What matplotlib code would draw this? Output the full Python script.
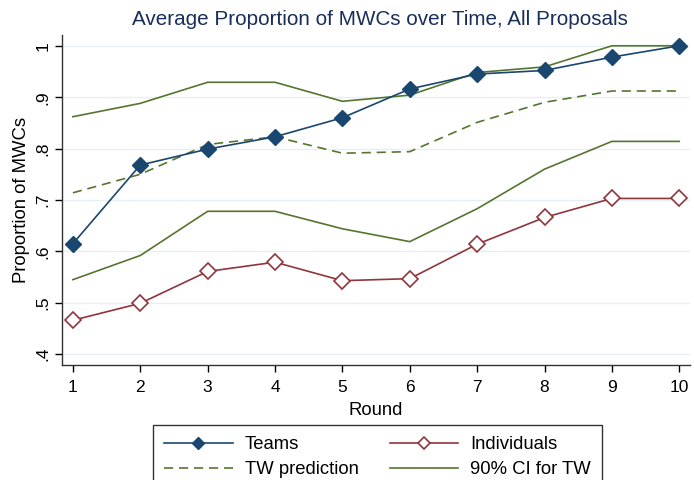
import matplotlib
matplotlib.use("Agg")
import matplotlib.pyplot as plt

plt.rcParams["font.family"] = ["Liberation Sans", "DejaVu Sans"]

rounds = [1, 2, 3, 4, 5, 6, 7, 8, 9, 10]
teams = [0.615, 0.768, 0.799, 0.823, 0.860, 0.916, 0.945, 0.952, 0.978, 1.0]
individuals = [0.466, 0.499, 0.561, 0.579, 0.543, 0.547, 0.614, 0.666, 0.703, 0.703]
tw_pred = [0.714, 0.750, 0.808, 0.823, 0.791, 0.794, 0.851, 0.890, 0.912, 0.912]
ci_upper = [0.862, 0.888, 0.929, 0.929, 0.892, 0.904, 0.948, 0.959, 1.0, 1.0]
ci_lower = [0.545, 0.592, 0.678, 0.678, 0.644, 0.619, 0.683, 0.760, 0.814, 0.814]

y_ticks = [0.4, 0.5, 0.6, 0.7, 0.8, 0.9, 1.0]
y_ticklabels = [".4", ".5", ".6", ".7", ".8", ".9", "1"]

NAVY = "#1a476f"
MAROON = "#90353b"
GREEN = "#55752f"

fig = plt.figure(figsize=(6.94, 4.80), dpi=100)
ax = fig.add_axes([0.0893, 0.2396, 0.905, 0.6875])

for yt in y_ticks:
    ax.axhline(yt, color="#e6eff2", linewidth=1.0, zorder=0)

ax.plot(rounds, ci_upper, color=GREEN, linewidth=1.2, label="90% CI for TW", zorder=2)
ax.plot(rounds, ci_lower, color=GREEN, linewidth=1.2, zorder=2)
ax.plot(rounds, tw_pred, color=GREEN, linewidth=1.2, linestyle=(0, (5.5, 3.5)),
        label="TW prediction", zorder=2)
ax.plot(rounds, individuals, color=MAROON, linewidth=1.2, marker="D", markersize=8,
        markerfacecolor="white", markeredgecolor=MAROON, markeredgewidth=1.2,
        label="Individuals", zorder=3)
ax.plot(rounds, teams, color=NAVY, linewidth=1.2, marker="D", markersize=8.5,
        markerfacecolor=NAVY, markeredgecolor=NAVY, label="Teams", zorder=4)

ax.set_xlim(0.838, 10.16)
ax.set_ylim(0.379, 1.021)
ax.set_xticks(rounds)
ax.set_yticks(y_ticks)
ax.set_yticklabels(y_ticklabels, rotation=90, va="center")
ax.tick_params(axis="both", direction="out", length=5, width=1, labelsize=12.5, colors="black")
ax.tick_params(axis="x", pad=6)
ax.tick_params(axis="y", pad=3)
for side in ["top", "right"]:
    ax.spines[side].set_visible(False)
for side in ["left", "bottom"]:
    ax.spines[side].set_color("#333333")
    ax.spines[side].set_linewidth(1.0)

ax.set_xlabel("Round", fontsize=13.3, labelpad=5)
ax.set_ylabel("Proportion of MWCs", fontsize=13.3, labelpad=4)
fig.suptitle("Average Proportion of MWCs over Time, All Proposals",
             fontsize=14.9, color="#1a2e5a", x=0.548, y=0.979)

# matplotlib fills legend columns first, so interleave to get row order
handles, labels = ax.get_legend_handles_labels()
order = [labels.index(n) for n in ["Teams", "TW prediction", "Individuals", "90% CI for TW"]]
leg = fig.legend([handles[i] for i in order], [labels[i] for i in order],
                 loc="upper center", bbox_to_anchor=(0.544, 0.1146), ncol=2,
                 fontsize=13.3, frameon=True, fancybox=False, edgecolor="black",
                 handlelength=3.7, columnspacing=1.7, handletextpad=0.65,
                 borderpad=0.6, labelspacing=0.43, markerscale=0.75,
                 borderaxespad=0)
leg.get_frame().set_linewidth(1.0)

fig.savefig("out.png", dpi=100)
